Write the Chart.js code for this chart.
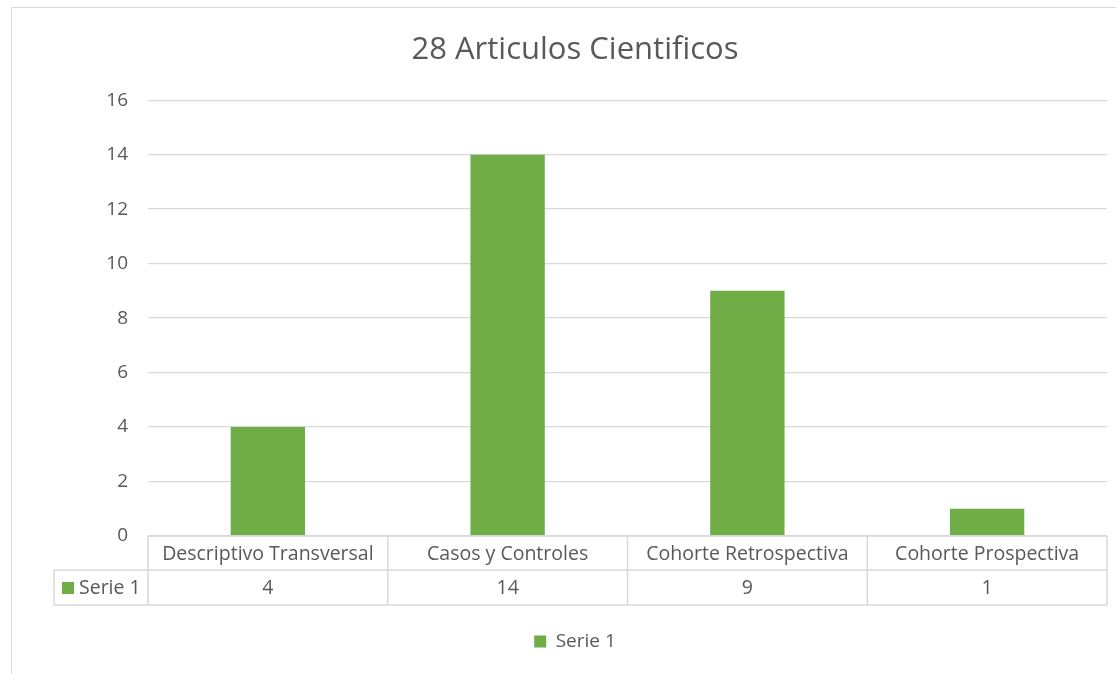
<!DOCTYPE html>
<html>
<head>
<meta charset="utf-8">
<script src="https://cdn.jsdelivr.net/npm/chart.js@4"></script>
<style>
  html, body { margin: 0; padding: 0; background: #fff; overflow: hidden; }
  #frame {
    position: absolute; left: 11px; top: 7px; width: 1130px; height: 700px;
    border: 1px solid #d9d9d9; box-sizing: border-box;
  }
  #wrap { position: absolute; left: 0; top: 0; width: 1116px; height: 674px; }
</style>
</head>
<body>
<div id="frame"></div>
<div id="wrap"><canvas id="chart" width="1116" height="674"></canvas></div>
<script>
  const title = "28 Articulos Cientificos";
  const categories = ["Descriptivo Transversal", "Casos y Controles", "Cohorte Retrospectiva", "Cohorte Prospectiva"];
  const seriesName = "Serie 1";
  const serie1 = [4, 14, 9, 1];
  const yMax = 16;
  const yStep = 2;

  const green = "#70ad47";
  const textColor = "#595959";
  const lineColor = "#d9d9d9";
  const fontFamily = "'Open Sans', 'Noto Sans', sans-serif";
  const fontSize = 19;
  const leftPad = 43;

  // Excel-style data table under the plot
  const dataTable = {
    id: "dataTable",
    afterDraw(chart) {
      const ctx = chart.ctx;
      const x = chart.scales.x;
      const area = chart.chartArea;
      const n = categories.length;
      const cell = (area.right - area.left) / n;
      const row1Top = area.bottom;
      const row1Bottom = row1Top + 34;
      const row2Bottom = row1Bottom + 35;
      const keyLeft = 54;

      ctx.save();
      ctx.strokeStyle = lineColor;
      ctx.lineWidth = 1.5;
      ctx.beginPath();
      ctx.moveTo(area.left, row1Top);
      ctx.lineTo(area.right, row1Top);
      ctx.moveTo(keyLeft, row1Bottom);
      ctx.lineTo(area.right, row1Bottom);
      ctx.moveTo(keyLeft, row2Bottom);
      ctx.lineTo(area.right, row2Bottom);
      ctx.moveTo(keyLeft, row1Bottom);
      ctx.lineTo(keyLeft, row2Bottom);
      for (let i = 0; i <= n; i++) {
        const px = area.left + i * cell;
        ctx.moveTo(px, row1Top);
        ctx.lineTo(px, row2Bottom);
      }
      ctx.stroke();

      ctx.fillStyle = textColor;
      ctx.font = "19.5px " + fontFamily;
      ctx.textAlign = "center";
      ctx.textBaseline = "middle";
      categories.forEach((c, i) => {
        const cx = x.getPixelForValue(i);
        ctx.fillText(c, cx, (row1Top + row1Bottom) / 2 + 1);
        ctx.fillText(String(serie1[i]), cx, (row1Bottom + row2Bottom) / 2 + 1);
      });

      ctx.fillStyle = green;
      ctx.fillRect(62, row1Bottom + 12, 12, 12);
      ctx.fillStyle = textColor;
      ctx.textAlign = "left";
      ctx.fillText(seriesName, 79, (row1Bottom + row2Bottom) / 2 + 1);
      ctx.restore();
    },
  };

  new Chart(document.getElementById("chart"), {
    type: "bar",
    data: {
      labels: categories,
      datasets: [
        {
          label: seriesName,
          data: serie1,
          backgroundColor: green,
          categoryPercentage: 1,
          barPercentage: 0.31,
        },
      ],
    },
    options: {
      responsive: false,
      animation: false,
      layout: { padding: { left: leftPad, right: 9, top: 0, bottom: 13 } },
      scales: {
        x: {
          ticks: { display: false },
          grid: { display: false },
          border: { display: false },
          afterFit(scale) {
            scale.height = 86;
          },
        },
        y: {
          min: 0,
          max: yMax,
          ticks: {
            stepSize: yStep,
            padding: 20,
            color: textColor,
            font: { size: fontSize, family: fontFamily },
          },
          grid: { color: lineColor, lineWidth: 1.3, drawTicks: false },
          border: { display: false },
          afterFit(scale) {
            scale.width = 148 - leftPad;
          },
        },
      },
      plugins: {
        title: {
          display: true,
          text: title,
          color: textColor,
          font: { size: 31, family: fontFamily, weight: "normal" },
          padding: { top: 32, bottom: 31 },
        },
        legend: {
          position: "bottom",
          labels: {
            boxWidth: 12,
            boxHeight: 12,
            padding: 10,
            color: textColor,
            font: { size: fontSize, family: fontFamily },
          },
        },
        tooltip: { enabled: false },
      },
    },
    plugins: [dataTable],
  });
</script>
</body>
</html>
